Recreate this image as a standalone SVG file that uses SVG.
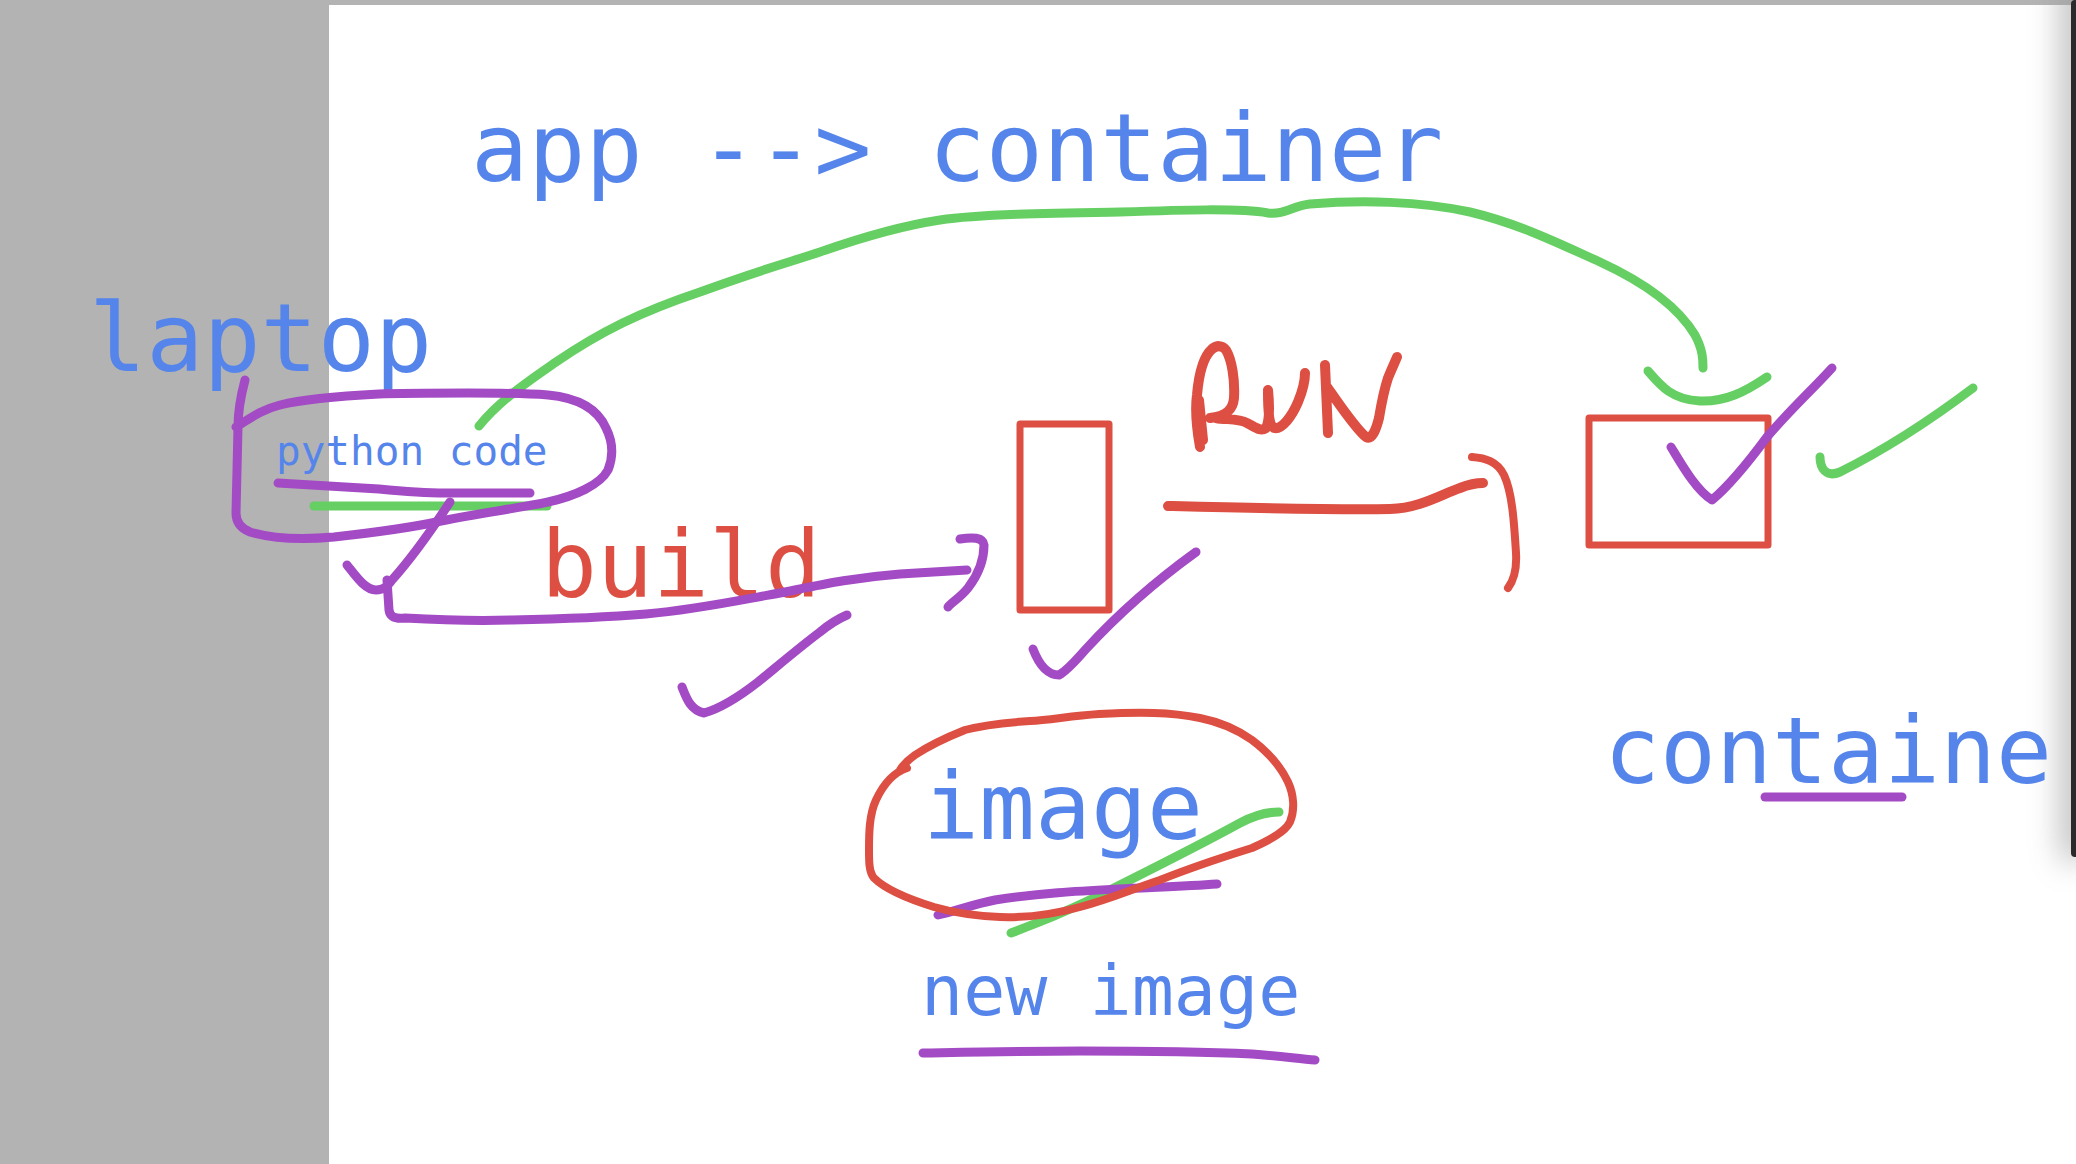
<svg xmlns="http://www.w3.org/2000/svg" width="2076" height="1164" viewBox="0 0 2076 1164">
<defs>
<style>
.t{font-family:"DejaVu Sans Mono","Liberation Mono",monospace;fill:#5585EB}
.r{fill:none;stroke:#DD4F42;stroke-linecap:round;stroke-linejoin:round}
.p{fill:none;stroke:#A34BC4;stroke-width:9;stroke-linecap:round;stroke-linejoin:round}
.g{fill:none;stroke:#66CF63;stroke-width:9;stroke-linecap:round;stroke-linejoin:round}
</style>
<filter id="blur" x="-2" y="-0.2" width="5" height="1.4">
<feGaussianBlur stdDeviation="16"/>
</filter>
</defs>
<rect x="0" y="0" width="2076" height="1164" fill="#ffffff"/>
<rect x="0" y="0" width="329" height="1164" fill="#B3B3B3"/>
<rect x="329" y="0" width="1747" height="5" fill="#B3B3B3"/>
<rect x="2062" y="-40" width="30" height="900" fill="#9a9a9a" opacity="0.7" filter="url(#blur)"/>
<rect x="2071" y="0" width="8" height="857" rx="4" fill="#2a2a2a"/>

<g id="title"><text class="t" x="471" y="181" font-size="95">app --&gt; container</text></g>
<g id="laptop"><text class="t" x="89" y="371" font-size="95">laptop</text></g>
<g id="python-code"><text class="t" x="276" y="465" font-size="41">python code</text></g>
<g id="build"><text x="541" y="597" font-size="93" font-family="DejaVu Sans Mono, Liberation Mono, monospace" fill="#DD4F42">build</text></g>
<g id="image-rect"><rect class="r" x="1020" y="424" width="89" height="186" stroke-width="7"/></g>
<g id="container-rect"><rect class="r" x="1589" y="418" width="179" height="127" stroke-width="7"/></g>
<g id="run-label"><path class="r" stroke-width="10" d="M1200,447 C1197,430 1195,410 1197,395 C1199,372 1204,356 1212,349 C1217,345 1222,345 1226,350 C1232,360 1235,380 1234,398 C1233,410 1226,416 1210,418 M1203,440 L1199,400 M1216,418 C1226,420 1238,418 1247,423 C1255,427 1260,432 1266,428 C1270,420 1269,400 1268,390 M1268,392 C1268,410 1269,425 1274,428 C1282,430 1292,416 1298,402 C1303,390 1305,380 1305,373 M1325,365 L1328,433 M1327,387 C1340,405 1355,428 1366,437 C1372,440 1376,430 1379,418 C1382,400 1384,390 1388,378 C1392,368 1395,362 1397,357"/></g>
<g id="image"><text class="t" x="923" y="839" font-size="93">image</text></g>
<g id="new-image"><text class="t" x="921" y="1015" font-size="70">new image</text></g>
<g id="containe"><text class="t" x="1604" y="783" font-size="93">containe</text></g>

<g id="connectors">
<path class="g" d="M479,426 C500,400 530,380 556,362 C600,332 640,312 700,292 C760,270 790,262 820,252 C860,238 900,226 940,220 C980,214 1060,213 1120,212 C1180,210 1240,208 1268,213 C1285,215 1292,206 1310,204 C1360,200 1420,201 1470,212 C1520,224 1560,244 1600,262 C1650,285 1680,310 1695,335 C1703,350 1703,360 1703,368"/>
<path class="g" d="M1648,371 C1660,385 1672,400 1700,401 C1725,402 1745,392 1767,377"/>
<path class="g" d="M1820,457 C1820,468 1826,478 1840,472 C1880,452 1920,428 1973,388"/>
<path class="g" d="M314,506 L547,506"/>
<path class="g" d="M1011,933 C1040,922 1064,913 1100,895 C1160,865 1200,845 1240,823 C1255,815 1268,812 1279,812"/>

<path class="p" d="M245,380 C241,395 238,410 238,427 L236,513 C236,522 240,528 250,532 C270,538 300,540 334,537 C370,533 410,528 441,521 C480,513 520,508 548,502 C575,496 600,485 608,470 C614,455 612,440 606,428 C598,410 580,398 548,395 C520,393 490,393 468,393 C430,393 400,393 379,394 C340,396 300,400 280,405 C260,410 248,420 236,427"/>
<path class="p" d="M278,483 C310,485 345,487 379,489 C410,492 430,493 445,493 L530,493"/>
<path class="p" d="M347,565 C355,575 365,590 376,590 C385,590 388,585 392,580 C410,560 425,540 450,502"/>
<path class="p" d="M387,580 L389,610 C390,617 395,619 405,618 C440,620 480,621 512,620 C560,619 610,617 646,614 C700,609 740,600 780,593 C820,585 850,578 900,574 L967,570"/>
<path class="p" d="M960,539 C972,537 983,537 984,545 C984,560 978,575 968,588 C960,598 952,602 948,607"/>
<path class="p" d="M682,687 C686,697 690,710 704,713 C722,708 740,696 758,682 C780,664 800,647 820,632 C832,622 840,618 847,615"/>
<path class="p" d="M1033,649 C1038,662 1046,675 1059,675 C1068,670 1076,660 1086,649 C1120,612 1160,578 1196,552"/>
<path class="p" d="M1671,447 C1682,465 1696,490 1712,500 C1730,485 1750,460 1767,437 C1790,410 1812,390 1832,368"/>
<path class="p" d="M938,915 C958,910 975,904 995,900 C1040,893 1080,891 1118,889 C1160,887 1190,886 1217,884"/>
<path class="p" d="M923,1053 C980,1052 1030,1051 1080,1051 C1150,1051 1210,1052 1252,1054 C1280,1056 1300,1059 1315,1060"/>
<path class="p" stroke-width="10" d="M1765,797 L1902,797"/>

<path class="r" stroke-width="8" d="M907,768 C895,772 884,783 876,800 C869,815 869,835 869,850 C869,862 869,872 874,878 C884,888 905,898 934,907 C955,913 975,916 1000,917 C1030,918 1055,914 1080,907 C1110,899 1130,890 1160,880 C1190,868 1220,858 1252,848 C1270,840 1285,832 1290,822 C1295,810 1294,795 1288,782 C1280,765 1268,752 1252,740 C1235,728 1220,722 1200,718 C1170,712 1140,712 1099,714 C1070,716 1050,720 1030,721 C1000,723 980,726 965,730 C945,738 930,745 915,755 C908,760 903,765 900,770"/>
<path class="r" stroke-width="10" d="M1168,506 C1250,508 1330,510 1390,509 C1420,508 1440,495 1460,488 C1470,484 1478,483 1483,483"/>
<path class="r" stroke-width="8" d="M1472,457 C1485,458 1497,461 1504,475 C1512,492 1514,520 1516,553 C1517,570 1514,580 1508,588"/>
</g>
</svg>
